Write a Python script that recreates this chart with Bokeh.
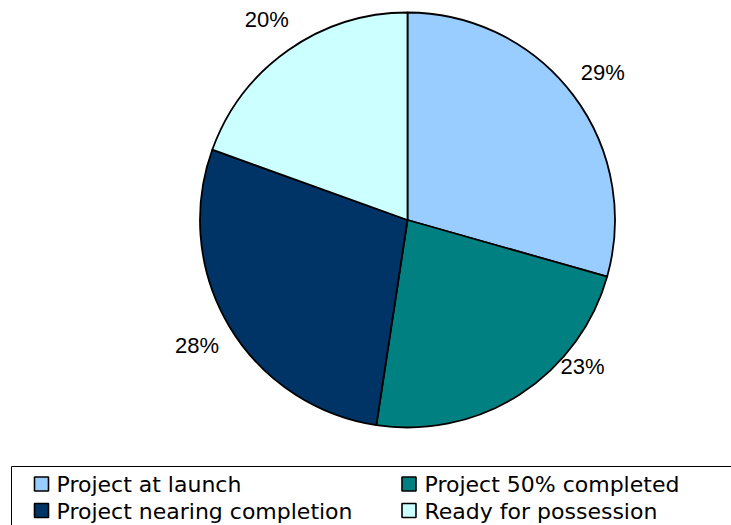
import math
from bokeh.plotting import figure
from bokeh.models import Range1d
from bokeh.core.properties import value
from bokeh.embed import file_html
from bokeh.resources import INLINE

# ---- data ----
categories = ["Project at launch", "Project 50% completed",
              "Project nearing completion", "Ready for possession"]
shares = [29.4, 23.0, 28.1, 19.5]
pct_labels = ["29%", "23%", "28%", "20%"]
colors = ["#99CCFF", "#008080", "#003366", "#CCFFFF"]

# ---- layout (page pixels, y measured downwards then converted) ----
W, H = 731, 525
cx, cy_s, r = 407.0, 219.5, 207.5
cy = H - cy_s
label_r = 1.18 * r
label_floor = cy - 0.706 * r
label_gap = 6

p = figure(width=W, height=H, output_backend="svg", toolbar_location=None,
           x_range=Range1d(0, W), y_range=Range1d(0, H), min_border=0)
p.axis.visible = False
p.grid.visible = False
p.outline_line_color = None
p.background_fill_color = "white"
p.border_fill_color = "white"

total = float(sum(shares))
cum = 0.0
starts, ends = [], []
lab_c = dict(x=[], y=[], t=[])
lab_l = dict(x=[], y=[], t=[])
for s, lab in zip(shares, pct_labels):
    f0 = cum / total
    f1 = (cum + s) / total
    cum += s
    starts.append(math.pi / 2 - 2 * math.pi * f0)
    ends.append(math.pi / 2 - 2 * math.pi * f1)
    th = 2 * math.pi * (f0 + f1) / 2
    lx = cx + label_r * math.sin(th)
    ly = cy + label_r * math.cos(th)
    if ly < label_floor:
        # keep label inside chart area: lift it and place it just outside the rim
        ly = label_floor
        dx = math.sqrt(max(r ** 2 - (ly - cy) ** 2, 0))
        lab_l["x"].append(cx + dx + label_gap)
        lab_l["y"].append(ly)
        lab_l["t"].append(lab)
    else:
        lab_c["x"].append(lx)
        lab_c["y"].append(ly)
        lab_c["t"].append(lab)

p.wedge(x=[cx] * len(shares), y=[cy] * len(shares), radius=r,
        start_angle=starts, end_angle=ends, direction="clock",
        fill_color=colors, line_color="black", line_width=1.8)

p.text(x=lab_c["x"], y=lab_c["y"], text=lab_c["t"], text_align="center",
       text_baseline="middle", text_font=value("Liberation Sans"),
       text_font_size="22px", text_color="black")
p.text(x=lab_l["x"], y=lab_l["y"], text=lab_l["t"], text_align="left",
       text_baseline="middle", text_font=value("Liberation Sans"),
       text_font_size="22px", text_color="black")

# ---- legend (drawn manually) ----
box_left, box_top_s = 11, 466
p.quad(left=[box_left], right=[W + 20], top=[H - box_top_s], bottom=[-20],
       fill_color=None, line_color="black", line_width=1)

col_sw_x = [41, 408.5]
col_tx_x = [56, 424]
row_sw_y_s = [483.5, 510]
row_tx_y_s = [484, 510.5]
sx, sy, tx, ty = [], [], [], []
for i, name in enumerate(categories):
    row, col = divmod(i, 2)
    sx.append(col_sw_x[col])
    sy.append(H - row_sw_y_s[row])
    tx.append(col_tx_x[col])
    ty.append(H - row_tx_y_s[row])

p.rect(x=sx, y=sy, width=14, height=14, fill_color=colors,
       line_color="black", line_width=1.6)
p.text(x=tx, y=ty, text=categories, text_align="left",
       text_baseline="middle", text_font=value("DejaVu Sans"),
       text_font_size="22px", text_color="black")

open("out.html", "w").write(file_html(p, INLINE))
